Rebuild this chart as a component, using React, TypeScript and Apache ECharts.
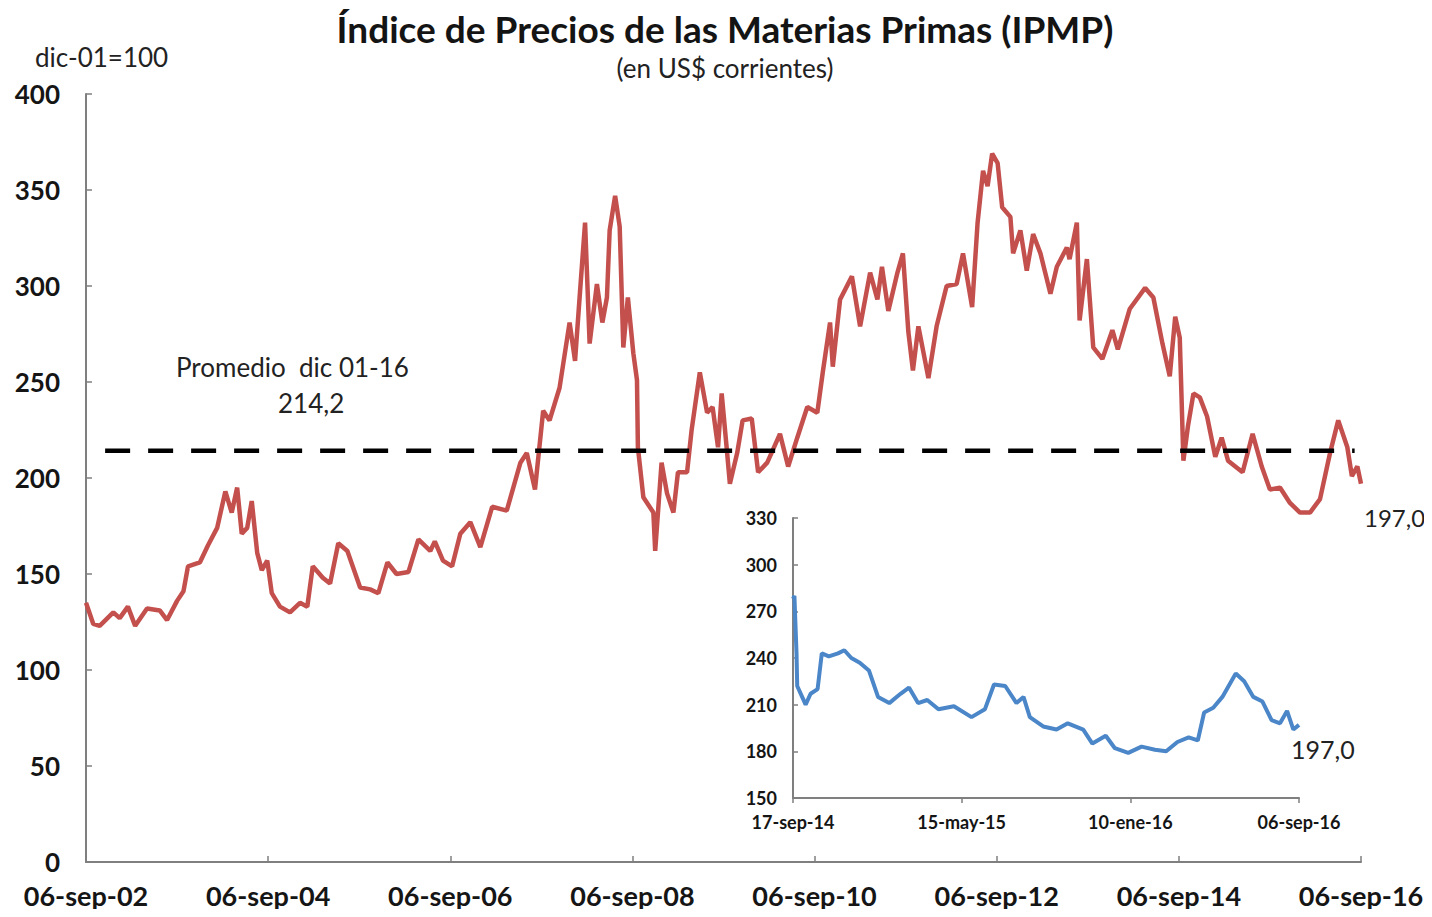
import React, { useEffect, useRef } from "react";
import * as echarts from "echarts";

// Main series: [years since 06-sep-02, index value (dic-01=100)]
const ipmp: [number, number][] = [
  [0.0, 135], [0.08, 124], [0.15, 123], [0.3, 130], [0.37, 127], [0.46, 133], [0.54, 123],
  [0.67, 132], [0.81, 131], [0.89, 126], [1.0, 136], [1.07, 141], [1.12, 154], [1.25, 156],
  [1.34, 165], [1.44, 174], [1.53, 193], [1.6, 182], [1.66, 195], [1.71, 171], [1.77, 174],
  [1.82, 188], [1.88, 161], [1.93, 152], [1.99, 157], [2.04, 140], [2.13, 133], [2.24, 130],
  [2.35, 135], [2.43, 133], [2.49, 154], [2.6, 148], [2.68, 145], [2.77, 166], [2.87, 162],
  [3.01, 143], [3.12, 142], [3.21, 140], [3.31, 156], [3.41, 150], [3.54, 151], [3.65, 168],
  [3.78, 162], [3.83, 167], [3.92, 157], [4.02, 154], [4.11, 171], [4.22, 177], [4.33, 164],
  [4.46, 185], [4.62, 183], [4.77, 208], [4.84, 213], [4.93, 194], [5.02, 235], [5.09, 230],
  [5.2, 247], [5.31, 281], [5.37, 261], [5.42, 294], [5.48, 333], [5.53, 270], [5.61, 301],
  [5.67, 281], [5.72, 294], [5.75, 329], [5.81, 347], [5.86, 331], [5.9, 268], [5.95, 294],
  [6.01, 265], [6.05, 251], [6.06, 216], [6.12, 190], [6.23, 182], [6.25, 162], [6.32, 208],
  [6.38, 192], [6.45, 182], [6.5, 203], [6.6, 203], [6.65, 225], [6.74, 255], [6.82, 234],
  [6.88, 237], [6.94, 216], [6.98, 244], [7.04, 213], [7.07, 197], [7.15, 213], [7.21, 230],
  [7.31, 231], [7.38, 203], [7.48, 208], [7.62, 223], [7.71, 206], [7.81, 221], [7.92, 237],
  [8.03, 234], [8.09, 255], [8.17, 281], [8.2, 258], [8.28, 293], [8.41, 305], [8.5, 279],
  [8.61, 307], [8.69, 293], [8.74, 310], [8.81, 287], [8.91, 307], [8.97, 317], [9.03, 276],
  [9.08, 256], [9.14, 279], [9.25, 252], [9.34, 279], [9.45, 300], [9.56, 301], [9.63, 317],
  [9.73, 289], [9.79, 333], [9.85, 360], [9.9, 352], [9.95, 369], [10.01, 364], [10.06, 341],
  [10.15, 336], [10.18, 317], [10.26, 329], [10.33, 308], [10.4, 327], [10.48, 317], [10.59, 296],
  [10.66, 310], [10.77, 320], [10.8, 314], [10.88, 333], [10.91, 282], [10.99, 314], [11.06, 268],
  [11.16, 262], [11.27, 277], [11.33, 267], [11.46, 288], [11.63, 299], [11.72, 294], [11.82, 270],
  [11.9, 253], [11.96, 284], [12.01, 273], [12.05, 209], [12.1, 227], [12.16, 244], [12.23, 242],
  [12.31, 232], [12.4, 211], [12.47, 221], [12.54, 209], [12.7, 203], [12.81, 223], [12.91, 206],
  [13.0, 194], [13.11, 195], [13.22, 187], [13.33, 182], [13.44, 182], [13.55, 189], [13.66, 213],
  [13.75, 230], [13.85, 216], [13.9, 201], [13.96, 206], [14.0, 197],
];

// Average line (Promedio dic 01-16)
const promedio = 214.2;
const promedioSpan: [number, number] = [0.21, 13.93];

// Inset series: [days since 17-sep-14, index value]
const ipmpInset: [number, number][] = [
  [0, 278], [2, 280], [5, 243], [6, 222], [13, 215], [18, 210], [25, 217], [35, 220], [41, 243],
  [51, 241], [64, 243], [73, 245], [83, 240], [95, 237], [108, 232], [121, 215], [137, 211],
  [153, 217], [165, 221], [178, 211], [191, 213], [207, 207], [229, 209], [254, 202], [273, 207],
  [286, 223], [302, 222], [318, 211], [328, 215], [337, 202], [356, 196], [375, 194], [391, 198],
  [413, 194], [426, 185], [445, 190], [458, 182], [477, 179], [496, 183], [515, 181], [531, 180],
  [547, 186], [563, 189], [576, 187], [585, 205], [598, 208], [611, 215], [630, 230], [642, 225],
  [655, 215], [668, 212], [681, 200], [693, 198], [703, 206], [712, 194], [720, 197],
];

const insetTickLabels = ["17-sep-14", "15-may-15", "10-ene-16", "06-sep-16"];

const FONT = "Lato, 'Open Sans', sans-serif";
const RED = "#C4504E";
const BLUE = "#4A86C8";
const AXIS = "#7f7f7f";

export default function App() {
  const ref = useRef<HTMLDivElement>(null);

  useEffect(() => {
    if (!ref.current) return;
    const chart = echarts.init(ref.current, undefined, { renderer: "svg" });
    chart.setOption({
      animation: false,
      backgroundColor: "#ffffff",
      textStyle: { fontFamily: FONT },
      title: {
        text: "Índice de Precios de las Materias Primas (IPMP)",
        subtext: "(en US$ corrientes)",
        left: 720,
        textAlign: "center",
        top: 5,
        itemGap: 8,
        textStyle: { fontFamily: FONT, fontSize: 37, fontWeight: "bold", color: "#141414" },
        subtextStyle: { fontFamily: FONT, fontSize: 26, color: "#222" },
      },
      grid: [
        { left: 86, right: 71, top: 94, bottom: 55 },
        { left: 793, right: 133, top: 518, bottom: 119 },
      ],
      xAxis: [
        {
          type: "value",
          gridIndex: 0,
          min: 0,
          max: 14,
          interval: 2,
          axisLine: { lineStyle: { color: AXIS, width: 2 } },
          axisTick: { inside: true, length: 6, lineStyle: { color: AXIS, width: 1.5 } },
          splitLine: { show: false },
          axisLabel: {
            margin: 20,
            fontSize: 27,
            fontWeight: "bold",
            color: "#151515",
            fontFamily: FONT,
            formatter: (v: number) => "06-sep-" + String(2 + v).padStart(2, "0"),
          },
        },
        {
          type: "value",
          gridIndex: 1,
          min: 0,
          max: 720,
          interval: 240,
          axisLine: { lineStyle: { color: AXIS, width: 2 } },
          axisTick: { inside: false, length: 5, lineStyle: { color: AXIS, width: 1.5 } },
          splitLine: { show: false },
          axisLabel: {
            margin: 15,
            fontSize: 18,
            fontWeight: "bold",
            color: "#151515",
            fontFamily: FONT,
            formatter: (v: number) => insetTickLabels[Math.round(v / 240)] ?? "",
          },
        },
      ],
      yAxis: [
        {
          type: "value",
          gridIndex: 0,
          min: 0,
          max: 400,
          interval: 50,
          axisLine: { show: true, lineStyle: { color: AXIS, width: 2 } },
          axisTick: { show: true, inside: true, length: 6, lineStyle: { color: AXIS, width: 1.5 } },
          splitLine: { show: false },
          axisLabel: { margin: 26, fontSize: 26, fontWeight: "bold", color: "#151515", fontFamily: FONT },
        },
        {
          type: "value",
          gridIndex: 1,
          min: 150,
          max: 330,
          interval: 30,
          axisLine: { show: true, lineStyle: { color: AXIS, width: 2 } },
          axisTick: { show: true, inside: true, length: 5, lineStyle: { color: AXIS, width: 1.5 } },
          splitLine: { show: false },
          axisLabel: { margin: 16, fontSize: 18, fontWeight: "bold", color: "#151515", fontFamily: FONT },
        },
      ],
      series: [
        {
          type: "line",
          name: "IPMP",
          xAxisIndex: 0,
          yAxisIndex: 0,
          data: ipmp,
          showSymbol: false,
          lineStyle: { color: RED, width: 4.5 },
          z: 3,
        },
        {
          type: "line",
          name: "Promedio",
          xAxisIndex: 0,
          yAxisIndex: 0,
          data: promedioSpan.map((t) => [t, promedio]),
          showSymbol: false,
          lineStyle: { color: "#000", width: 4.5, type: [25, 18] },
          z: 4,
        },
        {
          type: "line",
          name: "IPMP reciente",
          xAxisIndex: 1,
          yAxisIndex: 1,
          data: ipmpInset,
          showSymbol: false,
          lineStyle: { color: BLUE, width: 4 },
        },
      ],
      graphic: [
        {
          type: "text",
          left: 35,
          top: 44,
          style: { text: "dic-01=100", fontSize: 26, fontFamily: FONT, fill: "#222" },
        },
        {
          type: "text",
          left: 176,
          top: 354,
          style: { text: "Promedio  dic 01-16", fontSize: 26, fontFamily: FONT, fill: "#222" },
        },
        {
          type: "text",
          left: 278,
          top: 390,
          style: { text: "214,2", fontSize: 26, fontFamily: FONT, fill: "#222" },
        },
        {
          type: "text",
          left: 1364,
          top: 505,
          style: { text: "197,0", fontSize: 24, fontFamily: FONT, fill: "#222" },
        },
        {
          type: "text",
          left: 1291,
          top: 736,
          style: { text: "197,0", fontSize: 25, fontFamily: FONT, fill: "#222" },
        },
      ],
    });
    return () => chart.dispose();
  }, []);

  return <div ref={ref} style={{ width: 1432, height: 917, margin: -8 }} />;
}
